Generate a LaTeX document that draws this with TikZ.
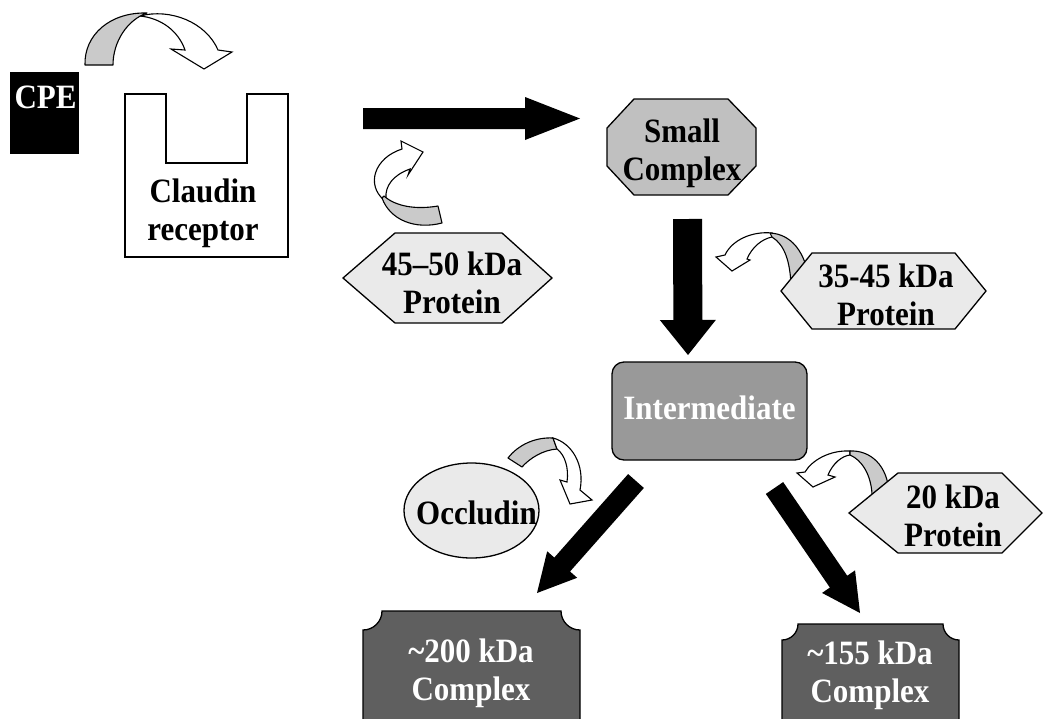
\documentclass[tikz,border=0pt]{standalone}
\usepackage{graphicx}
\usepackage{fontspec}
\setmainfont{Liberation Serif}
\usetikzlibrary{calc,shapes.geometric}
\definecolor{smallgray}{HTML}{C0C0C0}
\definecolor{lightfill}{HTML}{EAEAEA}
\definecolor{ribbongray}{HTML}{CACACA}
\definecolor{midgray}{HTML}{999999}
\definecolor{darkfill}{HTML}{5F5F5F}
\newcommand\tallt[1]{\scalebox{1}[1.1]{#1}}
\newcommand\twoline[2]{\scalebox{1}[1.1]{\begin{tabular}[b]{@{}c@{}}#1\\#2\end{tabular}}}
\newcommand\blockarrow[5]{%
  \coordinate (hb) at ($(#2)!#5pt!(#1)$);
  \fill[black] ($(#1)!#3pt!90:(#2)$) -- ($(hb)!#3pt!90:(#2)$) -- ($(hb)!#4pt!90:(#2)$) -- (#2)
     -- ($(hb)!#4pt!-90:(#2)$) -- ($(hb)!#3pt!-90:(#2)$) -- ($(#1)!#3pt!-90:(#2)$) -- cycle;}
\tikzset{
  lbl/.style={font=\fontsize{31}{34.1}\selectfont\bfseries, inner sep=0pt},
  outl/.style={draw=black, line width=1.3pt, line join=miter},
  ribbon/.style={draw=black, line width=1.1pt, fill=ribbongray, line join=round},
  ribbonw/.style={draw=black, line width=1.1pt, fill=white, line join=miter},
}
\begin{document}
\begin{tikzpicture}[x=1pt,y=-1pt]
\useasboundingbox (0,0) rectangle (1044,718);
\clip (0,0) rectangle (1044,718);

% CPE
\fill[black] (10,72) rectangle (79,154);
\node[lbl, text=white, anchor=base] (cpe) at (45.5,108) {\tallt{CPE}};

% Claudin receptor
\draw[outl, fill=white] (125,94) -- (166,94) -- (166,163) -- (247,163) -- (247,94) -- (288,94) -- (288,257) -- (125,257) -- cycle;
\node[lbl, anchor=base] (claudin) at (203,240) {\twoline{Claudin}{receptor}};

% curved arrow A
\draw[ribbonw] (140,16) .. controls (170,8) and (206,22) .. (218,50) -- (232,52) -- (204,69) -- (171,49) -- (185,50) .. controls (178,30) and (160,18) .. (140,16) -- cycle;
\draw[ribbon] (85,65) .. controls (84,35) and (110,12) .. (147,13) .. controls (127,20) and (113,42) .. (113,65) -- cycle;

% horizontal arrow
\coordinate (h1) at (363,118.5);
\coordinate (h2) at (580,118.5);
\blockarrow{h1}{h2}{10.5}{21.5}{55}

% Small complex
\draw[outl, fill=smallgray] (634,99) -- (728,99) -- (756,128) -- (756,166) -- (728,195) -- (634,195) -- (607,166) -- (607,128) -- cycle;
\node[lbl, anchor=base] (small) at (682,180) {\twoline{Small}{Complex}};

% curved arrow B
\draw[ribbonw] (384,200) .. controls (366,185) and (374,158) .. (402,149) -- (401,141) -- (423,152) -- (408,175) -- (410,169) .. controls (393,175) and (385,186) .. (386,198) -- cycle;
\draw[ribbon] (382,198) .. controls (390,220) and (415,230) .. (442,223) -- (438,206) .. controls (415,210) and (395,206) .. (384,196) -- cycle;

% 45-50 kDa protein
\draw[outl, fill=lightfill] (343,278) -- (395,233) -- (502,233) -- (552,278) -- (502,323) -- (395,323) -- cycle;
\node[lbl, anchor=base] (p4550) at (452,313) {\twoline{45--50 kDa}{Protein}};

% down arrow
\coordinate (d1) at (687.5,219);
\coordinate (d2) at (688,355);
\blockarrow{d1}{d2}{14.5}{28}{35}

% curved arrow C
\draw[ribbonw] (772,233) .. controls (752,231) and (732,240) .. (725,255) -- (716,257) -- (732,271) -- (750,260) -- (747,259) .. controls (752,247) and (762,239) .. (772,237) -- cycle;
\draw[ribbon] (770,233) .. controls (790,234) and (806,250) .. (810,285) -- (791,285) .. controls (790,262) and (785,245) .. (772,237) -- cycle;

% 35-45 kDa protein
\draw[outl, fill=lightfill] (781,291) -- (812,253) -- (955,253) -- (986,291) -- (955,329) -- (812,329) -- cycle;
\node[lbl, anchor=base] (p3545) at (886,325) {\twoline{35-45 kDa}{Protein}};

% Intermediate
\node[outl, fill=midgray, rounded corners=12pt, minimum width=195pt, minimum height=98pt] (inter) at (709.5,411) {};
\node[lbl, text=white, anchor=base] (intertext) at (709.5,419) {\tallt{Intermediate}};

% Occludin
\node[outl, ellipse, fill=lightfill, minimum width=135pt, minimum height=95pt, inner sep=0pt] (occl) at (471.5,510.5) {};
\node[lbl, anchor=base] (occltext) at (476.5,524) {\tallt{Occludin}};

% curved arrow D
\draw[ribbon] (508,458) .. controls (518,445) and (535,437) .. (553,438) -- (557,449) .. controls (543,450) and (530,458) .. (522,467) -- cycle;
\draw[ribbonw] (553,438) .. controls (572,443) and (585,465) .. (580,490) -- (592,500) -- (570,504) -- (560,480) -- (567,482) .. controls (569,468) and (565,455) .. (557,449) -- cycle;

% curved arrow E
\draw[ribbonw] (850,451) .. controls (830,450) and (812,460) .. (805,472) -- (797,473) -- (813,487) -- (835,477) -- (828,475) .. controls (833,463) and (842,456) .. (850,455) -- cycle;
\draw[ribbon] (850,451) .. controls (870,450) and (888,465) .. (889,494) -- (872,494) .. controls (871,475) and (862,460) .. (850,455) -- cycle;

% 20 kDa protein
\draw[outl, fill=lightfill] (849,513) -- (898,473) -- (1002,473) -- (1042,513) -- (1002,553) -- (898,553) -- cycle;
\node[lbl, anchor=base] (p20) at (953,546) {\twoline{20 kDa}{Protein}};

% diagonal arrows
\coordinate (l1) at (636,481);
\coordinate (l2) at (537,593);
\blockarrow{l1}{l2}{10.5}{20}{38}
\coordinate (r1) at (774.5,488);
\coordinate (r2) at (860,613);
\blockarrow{r1}{r2}{10.5}{20}{38}

% ~200 kDa complex
\draw[outl, fill=darkfill] (382,611) -- (561,611)
  .. controls (561,621.5) and (569.5,630) .. (580,630) -- (580,740) -- (363,740) -- (363,630)
  .. controls (373.5,630) and (382,621.5) .. (382,611) -- cycle;
\node[lbl, text=white, anchor=base] (c200) at (471,700) {\twoline{\textasciitilde200 kDa}{Complex}};

% ~155 kDa complex
\draw[outl, fill=darkfill] (798,624) -- (943,624)
  .. controls (943,632.8) and (950.2,640) .. (959,640) -- (959,740) -- (782,740) -- (782,640)
  .. controls (790.8,640) and (798,632.8) .. (798,624) -- cycle;
\node[lbl, text=white, anchor=base] (c155) at (870,702) {\twoline{\textasciitilde155 kDa}{Complex}};
\end{tikzpicture}
\end{document}
